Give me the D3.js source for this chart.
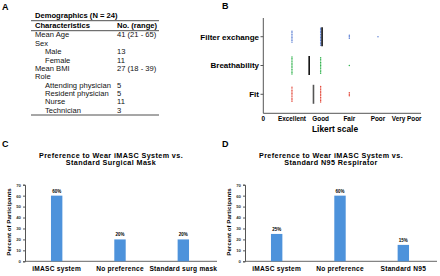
<!DOCTYPE html>
<html>
<head>
<meta charset="utf-8">
<script src="https://cdn.jsdelivr.net/npm/d3@7"></script>
<style>
  body { margin: 0; background: #fff; }
  text { font-family: "Liberation Sans", Arial, sans-serif; }
</style>
</head>
<body>
<div id="wrapper"></div>
<script>
// panel A table
const tableTitle = "Demographics (N = 24)";
const tableHeader = ["Characteristics", "No. (range)"];
const rowLabels = ["Mean Age", "Sex", "Male", "Female", "Mean BMI", "Role",
    "Attending physician", "Resident physician", "Nurse", "Technician"];
const rowValues = ["41 (21 - 65)", "", "13", "11", "27 (18 - 39)", "", "5", "5", "11", "3"];
const rowIndent = [0, 0, 1, 1, 0, 0, 1, 1, 1, 1];

// panel B likert
const likertCats = ["Filter exchange", "Breathability", "Fit"];
const likertTicks = ["0", "Excellent", "Good", "Fair", "Poor", "Very Poor"];
const filterCounts = [8, 12, 3, 1];   // answers at Excellent, Good, Fair, Poor
const breathCounts = [12, 11, 1, 0];
const fitCounts = [10, 11, 3, 0];
const likertMeans = [2.05, 1.6, 1.75];
const likertColors = ["#5b7fd3", "#2fb24c", "#e3493b"];

// panels C, D
const surgCats = ["iMASC system", "No preference", "Standard surg mask"];
const surgValues = [60, 20, 20];
const n95Cats = ["iMASC system", "No preference", "Standard N95"];
const n95Values = [25, 60, 15];
const pctTicks = [0, 10, 20, 30, 40, 50, 60, 70];

const svg = d3.select("#wrapper").append("svg")
    .attr("width", 440)
    .attr("height", 276);

function panelLetter(x, y, t) {
    svg.append("text").attr("x", x).attr("y", y)
        .attr("font-size", 9).attr("font-weight", "bold").text(t);
}

// ---------- A ----------
panelLetter(2, 9.5, "A");
const tbl = svg.append("g");
tbl.append("text").attr("x", 35).attr("y", 18)
    .attr("font-size", 7.6).attr("font-weight", "bold").text(tableTitle);
tbl.append("line").attr("x1", 31).attr("x2", 159).attr("y1", 20.7).attr("y2", 20.7)
    .attr("stroke", "#222").attr("stroke-width", 0.8);
tbl.append("text").attr("x", 35).attr("y", 27.8)
    .attr("font-size", 7.6).attr("font-weight", "bold").text(tableHeader[0]);
tbl.append("text").attr("x", 117).attr("y", 27.8)
    .attr("font-size", 7.6).attr("font-weight", "bold").text(tableHeader[1]);
tbl.append("line").attr("x1", 31).attr("x2", 159).attr("y1", 30.7).attr("y2", 30.7)
    .attr("stroke", "#222").attr("stroke-width", 0.8);

const rowY = d3.scalePoint().domain(d3.range(rowLabels.length)).range([37.4, 112.7]);
tbl.selectAll(".rl").data(rowLabels).join("text")
    .attr("x", (d, i) => rowIndent[i] ? 45 : 35)
    .attr("y", (d, i) => rowY(i))
    .attr("font-size", 7.6).attr("fill", "#111")
    .text(d => d);
tbl.selectAll(".rv").data(rowValues).join("text")
    .attr("x", 117)
    .attr("y", (d, i) => rowY(i))
    .attr("font-size", 7.6).attr("fill", "#111")
    .text(d => d);
tbl.append("line").attr("x1", 31).attr("x2", 159).attr("y1", 115).attr("y2", 115)
    .attr("stroke", "#222").attr("stroke-width", 0.8);

// ---------- B ----------
panelLetter(222, 9, "B");
const bx = d3.scaleLinear().domain([0, 5.5]).range([263.3, 421]);
const by = d3.scalePoint().domain(likertCats).range([18, 113]).padding(0.65);
const gB = svg.append("g");

gB.append("line").attr("x1", bx(0)).attr("x2", bx(0)).attr("y1", 18).attr("y2", 113.3)
    .attr("stroke", "#555").attr("stroke-width", 1);
gB.append("line").attr("x1", bx(0)).attr("x2", bx(5.5)).attr("y1", 113.3).attr("y2", 113.3)
    .attr("stroke", "#555").attr("stroke-width", 1);

gB.selectAll(".cat").data(likertCats).join("text")
    .attr("x", 259).attr("y", d => by(d) + 2.8)
    .attr("text-anchor", "end").attr("font-size", 8).attr("font-weight", "bold")
    .text(d => d);
gB.selectAll(".tk").data(likertCats).join("line")
    .attr("x1", 260.5).attr("x2", 263.3)
    .attr("y1", d => by(d)).attr("y2", d => by(d))
    .attr("stroke", "#555");

gB.selectAll(".xl").data(likertTicks).join("text")
    .attr("x", (d, i) => bx(i)).attr("y", 121)
    .attr("text-anchor", "middle").attr("font-size", 6.4).attr("font-weight", "bold")
    .text(d => d);
gB.append("text").attr("x", 335).attr("y", 131.5)
    .attr("text-anchor", "middle").attr("font-size", 8.4).attr("font-weight", "bold")
    .text("Likert scale");

const allCounts = [filterCounts, breathCounts, fitCounts];
likertCats.forEach((cat, ci) => {
    const dots = [];
    allCounts[ci].forEach((n, si) => {
        for (let k = 0; k < n; k++) dots.push({ score: si + 1, k: k, n: n });
    });
    gB.append("g").selectAll("circle").data(dots).join("circle")
        .attr("cx", d => bx(d.score))
        .attr("cy", d => by(cat) + (d.k - (d.n - 1) / 2) * 1.55)
        .attr("r", 0.72)
        .attr("fill", likertColors[ci]);
    gB.append("line")
        .attr("x1", bx(likertMeans[ci])).attr("x2", bx(likertMeans[ci]))
        .attr("y1", by(cat) - 9.5).attr("y2", by(cat) + 9.5)
        .attr("stroke", ci == 2 ? "#555" : "#111").attr("stroke-width", 1.6);
});

// ---------- C, D ----------
function barPanel(ox, letter, titleLines, cats, vals) {
    panelLetter(ox + 2, 146.5, letter);
    const g = svg.append("g");
    g.selectAll(".tt").data(titleLines).join("text")
        .attr("x", ox + 111).attr("y", (d, i) => 157.5 + i * 7.5)
        .attr("text-anchor", "middle").attr("font-size", 7.2)
        .attr("font-weight", "bold").attr("letter-spacing", 0.4)
        .text(d => d);

    const y = d3.scaleLinear().domain([0, 70]).range([261.3, 184.7]);
    const x = d3.scaleBand().domain(cats).range([ox + 25, ox + 215]).paddingInner(0.82).paddingOuter(0.41);

    const yAx = g.append("g").attr("transform", `translate(${ox + 25},0)`)
        .call(d3.axisLeft(y).tickValues(pctTicks).tickSize(2).tickPadding(2));
    yAx.selectAll("text").attr("font-size", 4.3).attr("font-weight", "bold").attr("fill", "#333");
    yAx.selectAll("line,path").attr("stroke", "#555");

    g.append("line").attr("x1", ox + 25).attr("x2", ox + 217)
        .attr("y1", 261.3).attr("y2", 261.3)
        .attr("stroke", "#666").attr("stroke-width", 1);

    g.selectAll("rect").data(vals).join("rect")
        .attr("x", (d, i) => x(cats[i]))
        .attr("y", d => y(d))
        .attr("width", x.bandwidth())
        .attr("height", d => y(0) - y(d))
        .attr("fill", "#4d92db");
    g.selectAll(".vl").data(vals).join("text")
        .attr("x", (d, i) => x(cats[i]) + x.bandwidth() / 2)
        .attr("y", d => y(d) - 3)
        .attr("text-anchor", "middle").attr("font-size", 4.5).attr("font-weight", "bold")
        .text(d => d + "%");

    g.selectAll(".xl").data(cats).join("text")
        .attr("x", d => x(d) + x.bandwidth() / 2)
        .attr("y", 271)
        .attr("text-anchor", "middle").attr("font-size", 6.6).attr("font-weight", "bold")
        .attr("letter-spacing", 0.25)
        .text(d => d);

    g.append("text")
        .attr("transform", `translate(${ox + 11},222) rotate(-90)`)
        .attr("text-anchor", "middle").attr("font-size", 6.2).attr("font-weight", "bold")
        .text("Percent of Participants");
}

barPanel(0, "C", ["Preference to Wear iMASC System vs.", "Standard Surgical Mask"], surgCats, surgValues);
barPanel(220, "D", ["Preference to Wear iMASC System vs.", "Standard N95 Respirator"], n95Cats, n95Values);
</script>
</body>
</html>
